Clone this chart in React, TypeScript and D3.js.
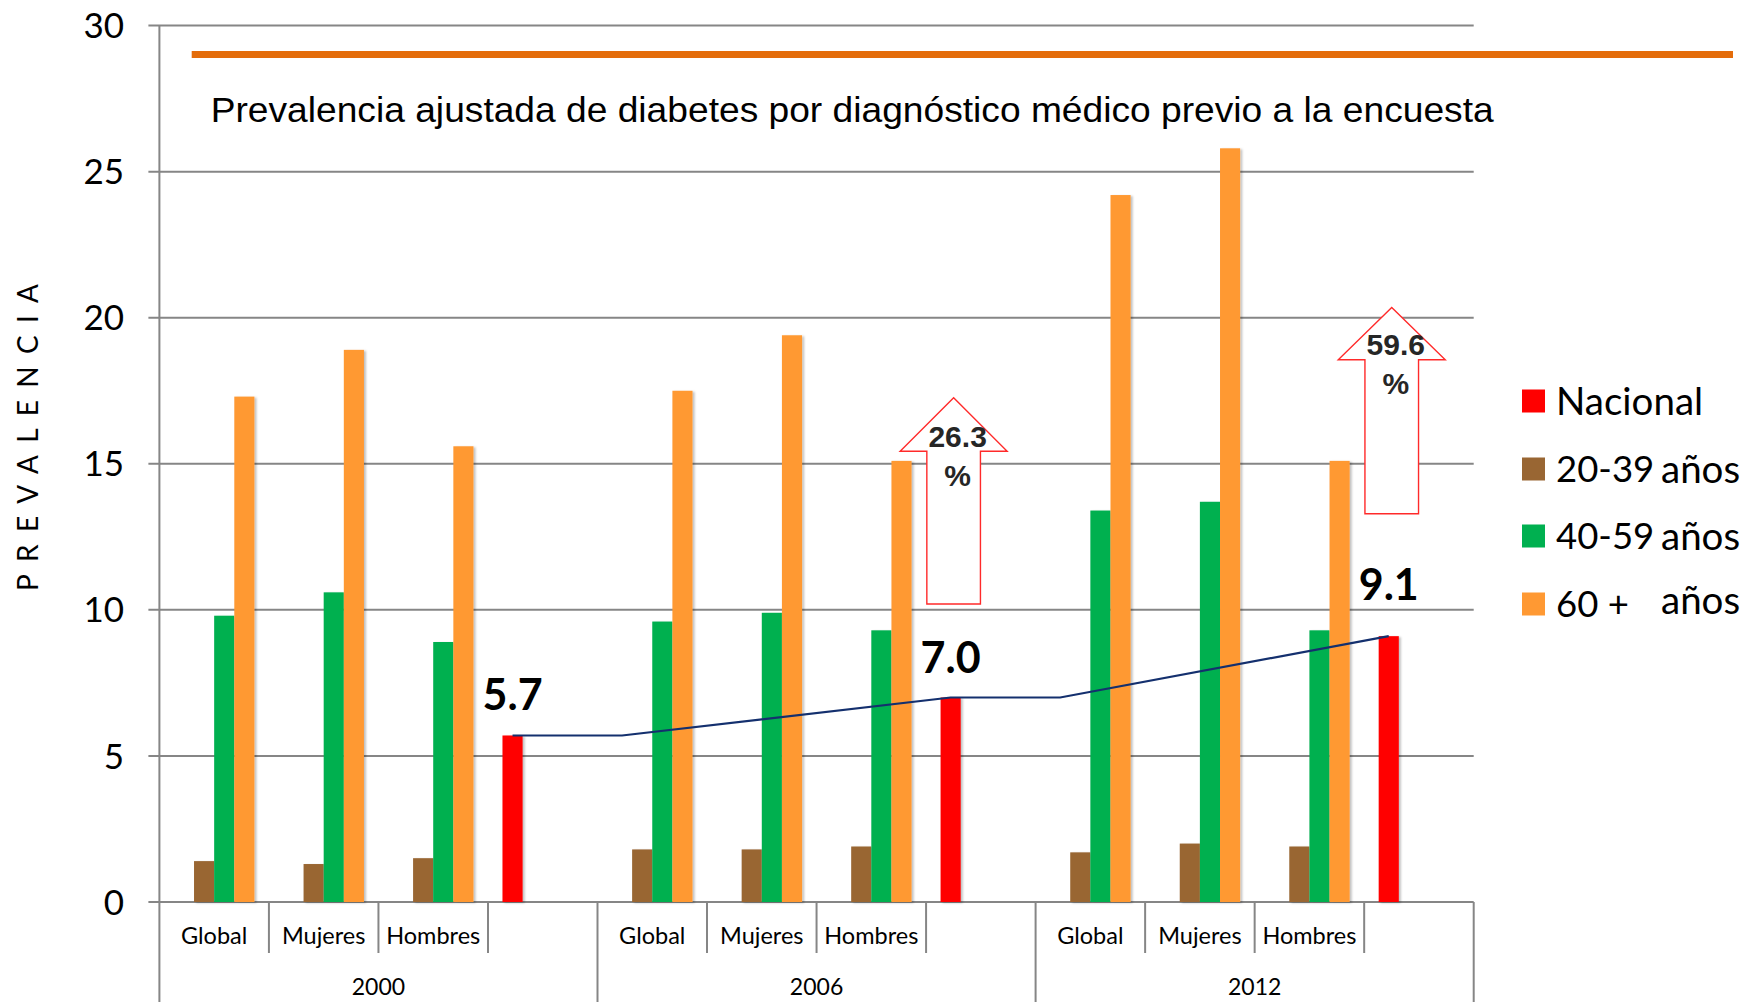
import React from "react";
import * as d3 from "d3";

// ---------- data ----------
const years = ["2000", "2006", "2012"];
const groups = ["Global", "Mujeres", "Hombres", "Nacional"];
const groupLabels = ["Global", "Mujeres", "Hombres", ""];
const seriesKeys = ["Nacional", "20-39", "40-59", "60+"];

// values per (year × Global/Mujeres/Hombres)
const age2039 = [1.4, 1.3, 1.5, 1.8, 1.8, 1.9, 1.7, 2.0, 1.9];
const age4059 = [9.8, 10.6, 8.9, 9.6, 9.9, 9.3, 13.4, 13.7, 9.3];
const age60 = [17.3, 18.9, 15.6, 17.5, 19.4, 15.1, 24.2, 25.8, 15.1];
const nacional = [5.7, 7.0, 9.1];
const nacionalLabels = ["5.7", "7.0", "9.1"];

const trendKeys = ["2000|Nacional", "2006|Global", "2006|Nacional", "2012|Global", "2012|Nacional"];
const trendValues = [5.7, 5.7, 7.0, 7.0, 9.1];

const increaseYears = ["2006", "2012"];
const increaseLabels = ["26.3", "59.6"];

const yTicks = [0, 5, 10, 15, 20, 25, 30];

const legendItems = [
  { key: "Nacional", label: "Nacional", suffix: "" },
  { key: "20-39", label: "20-39", suffix: "años" },
  { key: "40-59", label: "40-59", suffix: "años" },
  { key: "60+", label: "60 +", suffix: "años" },
];

const colors: Record<string, string> = {
  Nacional: "#FF0000",
  "20-39": "#996633",
  "40-59": "#00B050",
  "60+": "#FF9933",
};

// arrow annotation geometry in value units
const arrowGeom = [
  { bottom: 10.2, headBase: 15.43, tip: 17.26 },
  { bottom: 13.29, headBase: 18.56, tip: 20.35 },
];

// ---------- layout ----------
const W = 1748;
const H = 1002;
const X0 = 159.4;
const X1 = 1473.7;
const Y0 = 902;
const Y30 = 25.6;

const catKeys: string[] = [];
years.forEach((y) => groups.forEach((g) => catKeys.push(`${y}|${g}`)));

const x0 = d3.scaleBand<string>().domain(catKeys).range([X0, X1]).padding(0);
const x1 = d3
  .scaleBand<string>()
  .domain(seriesKeys)
  .range([0, x0.bandwidth()])
  .paddingInner(0)
  .paddingOuter(0.72);
const y = d3.scaleLinear().domain([0, 30]).range([Y0, Y30]);

type Bar = { cat: string; key: string; value: number };
const bars: Bar[] = [];
years.forEach((yr, yi) => {
  groups.slice(0, 3).forEach((g, gi) => {
    const idx = yi * 3 + gi;
    bars.push({ cat: `${yr}|${g}`, key: "20-39", value: age2039[idx] });
    bars.push({ cat: `${yr}|${g}`, key: "40-59", value: age4059[idx] });
    bars.push({ cat: `${yr}|${g}`, key: "60+", value: age60[idx] });
  });
  bars.push({ cat: `${yr}|Nacional`, key: "Nacional", value: nacional[yi] });
});

const slotCenter = (cat: string, key: string) =>
  (x0(cat) as number) + (x1(key) as number) + x1.bandwidth() / 2;

const gridColor = "#868686";
const calibri = "Lato, 'Open Sans', sans-serif";
const arial = "'Liberation Sans', Arial, sans-serif";

export default function App() {
  const linePath = d3
    .line<number>()
    .x((_, i) => slotCenter(trendKeys[i], "Nacional"))
    .y((v) => y(v))(trendValues) as string;

  return (
    <svg
      width={W}
      height={H}
      viewBox={`0 0 ${W} ${H}`}
      style={{ position: "absolute", left: 0, top: 0, background: "#fff" }}
    >
      <defs>
        <filter id="sh" x="-20%" y="-5%" width="160%" height="110%">
          <feDropShadow dx="2" dy="1" stdDeviation="1.2" floodColor="#000" floodOpacity="0.25" />
        </filter>
      </defs>

      {/* gridlines + y ticks */}
      {yTicks.map((t) => (
        <g key={t}>
          <line x1={X0 - 11} x2={X1} y1={y(t)} y2={y(t)} stroke={gridColor} strokeWidth={2} />
          <text
            x={124}
            y={y(t)}
            dy="0.36em"
            textAnchor="end"
            fontFamily={calibri}
            fontSize={35}
            fill="#000"
          >
            {t}
          </text>
        </g>
      ))}

      {/* left axis */}
      <line x1={X0} x2={X0} y1={Y30} y2={H} stroke={gridColor} strokeWidth={2} />

      {/* category dividers */}
      {catKeys.map((c, i) => {
        if (i === 0) return null;
        const xx = x0(c) as number;
        const isYear = i % groups.length === 0;
        return (
          <line
            key={c}
            x1={xx}
            x2={xx}
            y1={Y0}
            y2={isYear ? H : 953}
            stroke={gridColor}
            strokeWidth={2}
          />
        );
      })}
      <line x1={X1} x2={X1} y1={Y0} y2={H} stroke={gridColor} strokeWidth={2} />

      {/* category labels */}
      {catKeys.map((c, i) => (
        <text
          key={c}
          x={(x0(c) as number) + x0.bandwidth() / 2}
          y={936}
          dy="0.35em"
          textAnchor="middle"
          fontFamily={calibri}
          fontSize={23.5}
          fill="#000"
        >
          {groupLabels[i % groups.length]}
        </text>
      ))}

      {/* year labels */}
      {years.map((yr) => {
        const a = x0(`${yr}|Global`) as number;
        const b = (x0(`${yr}|Nacional`) as number) + x0.bandwidth();
        return (
          <text
            key={yr}
            x={(a + b) / 2}
            y={987}
            dy="0.35em"
            textAnchor="middle"
            fontFamily={calibri}
            fontSize={23}
            fill="#000"
          >
            {yr}
          </text>
        );
      })}

      {/* bars */}
      <g filter="url(#sh)">
        {bars.map((b, i) => (
          <rect
            key={i}
            x={(x0(b.cat) as number) + (x1(b.key) as number)}
            y={y(b.value)}
            width={x1.bandwidth()}
            height={Y0 - y(b.value)}
            fill={colors[b.key]}
          />
        ))}
      </g>

      {/* trend line */}
      <path d={linePath} fill="none" stroke="#14306E" strokeWidth={2.2} />

      {/* nacional value labels */}
      {years.map((yr, i) => (
        <text
          key={yr}
          x={slotCenter(`${yr}|Nacional`, "Nacional")}
          y={y(nacional[i]) - (i === 2 ? 36 : 25)}
          textAnchor="middle"
          fontFamily={calibri}
          fontWeight={700}
          fontSize={43}
          fill="#000"
        >
          {nacionalLabels[i]}
        </text>
      ))}

      {/* increase arrows */}
      {increaseYears.map((yr, i) => {
        const cx = slotCenter(`${yr}|Nacional`, "Nacional") + 3;
        const g = arrowGeom[i];
        const sw = 26.8;
        const hw = 53.5;
        const pts = [
          [cx - sw, y(g.bottom)],
          [cx - sw, y(g.headBase)],
          [cx - hw, y(g.headBase)],
          [cx, y(g.tip)],
          [cx + hw, y(g.headBase)],
          [cx + sw, y(g.headBase)],
          [cx + sw, y(g.bottom)],
        ];
        const textY = y(g.headBase) - 15;
        return (
          <g key={yr}>
            <polygon
              points={pts.map((p) => p.join(",")).join(" ")}
              fill="#fff"
              stroke="#FF2A2A"
              strokeWidth={1.4}
            />
            <text
              x={cx + 4}
              y={textY}
              dy="0.35em"
              textAnchor="middle"
              fontFamily={arial}
              fontWeight={700}
              fontSize={30}
              fill="#262626"
            >
              {increaseLabels[i]}
            </text>
            <text
              x={cx + 4}
              y={textY + 39}
              dy="0.35em"
              textAnchor="middle"
              fontFamily={arial}
              fontWeight={700}
              fontSize={30}
              fill="#262626"
            >
              %
            </text>
          </g>
        );
      })}

      {/* orange top rule */}
      <line x1={191.7} x2={1733} y1={54.6} y2={54.6} stroke="#E46C0A" strokeWidth={7} />

      {/* title */}
      <text
        x={210.7}
        y={110}
        dy="0.35em"
        fontFamily={arial}
        fontSize={35}
        fill="#000"
        textLength={1283}
        lengthAdjust="spacingAndGlyphs"
      >
        Prevalencia ajustada de diabetes por diagnóstico médico previo a la encuesta
      </text>

      {/* y axis title */}
      <text
        transform={`translate(28, ${437.5}) rotate(-90)`}
        textAnchor="middle"
        dy="0.35em"
        fontFamily={calibri}
        fontSize={28}
        fill="#000"
        textLength={307}
        lengthAdjust="spacing"
      >
        PREVALENCIA
      </text>

      {/* legend */}
      {legendItems.map((it, i) => {
        const cy = [401, 469, 536, 604][i];
        return (
          <g key={it.key}>
            <rect x={1522} y={cy - 11.5} width={23} height={23} fill={colors[it.key]} />
            <text
              x={1556}
              y={cy}
              dy="0.36em"
              fontFamily={calibri}
              fontSize={it.suffix ? 36.5 : 38.5}
              fill="#000"
            >
              {it.label}
            </text>
            {it.suffix && (
              <text
                x={1661}
                y={i === 3 ? cy - 4 : cy}
                dy="0.36em"
                fontFamily={calibri}
                fontSize={38.5}
                fill="#000"
              >
                {it.suffix}
              </text>
            )}
          </g>
        );
      })}
    </svg>
  );
}
